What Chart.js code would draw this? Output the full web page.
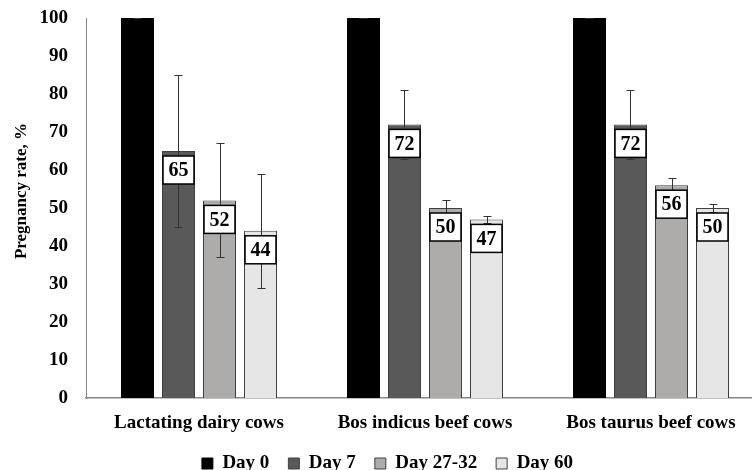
<!DOCTYPE html>
<html>
<head>
<meta charset="utf-8">
<script src="https://cdn.jsdelivr.net/npm/chart.js@4"></script>
<style>
    html, body { margin: 0; padding: 0; overflow: hidden; background: #fff; }
    #wrap { width: 764px; height: 470px; position: relative; }
</style>
</head>
<body>
<div id="wrap"><canvas id="pregChart"></canvas></div>
<script>
const categories = ['Lactating dairy cows', 'Bos indicus beef cows', 'Bos taurus beef cows'];
const seriesNames = ['Day 0', 'Day 7', 'Day 27-32', 'Day 60'];

const day0 = [100, 100, 100];
const day7 = [65, 72, 72];
const day2732 = [52, 50, 56];
const day60 = [44, 47, 50];

const day0Err = [0, 0, 0];
const day7Err = [20, 9, 9];
const day2732Err = [15, 2, 2];
const day60Err = [15, 1, 1];

const yTicks = [0, 10, 20, 30, 40, 50, 60, 70, 80, 90, 100];

const serif = "'Liberation Serif', 'Times New Roman', serif";
Chart.defaults.font.family = serif;
Chart.defaults.font.weight = 'bold';
Chart.defaults.color = '#000';

// error bars + white value boxes on top of the bars
const errorBoxes = {
    id: 'errorBoxes',
    afterDatasetsDraw(chart) {
        const ctx = chart.ctx;
        const y = chart.scales.y;
        ctx.save();
        chart.data.datasets.forEach((ds, di) => {
            const meta = chart.getDatasetMeta(di);
            meta.data.forEach((bar, i) => {
                const v = ds.data[i];
                const e = ds.errors[i];
                const top = Math.round(y.getPixelForValue(v + e)) + 0.5;
                const bot = Math.round(y.getPixelForValue(v - e)) + 0.5;
                const x = Math.round(bar.x) + 0.5;
                ctx.strokeStyle = '#333';
                ctx.lineWidth = 1;
                ctx.beginPath();
                ctx.moveTo(x, top);
                ctx.lineTo(x, bot);
                ctx.moveTo(x - 4, top);
                ctx.lineTo(x + 4, top);
                ctx.moveTo(x - 4, bot);
                ctx.lineTo(x + 4, bot);
                ctx.stroke();
            });
        });
        chart.data.datasets.forEach((ds, di) => {
            if (!ds.showValue) return;
            const meta = chart.getDatasetMeta(di);
            meta.data.forEach((bar, i) => {
                const w = bar.width - 2;
                const bx = bar.x - w / 2;
                const by = bar.y + 5;
                const bh = 28;
                ctx.fillStyle = '#fff';
                ctx.fillRect(bx, by, w, bh);
                ctx.strokeStyle = '#000';
                ctx.lineWidth = 1.5;
                ctx.strokeRect(bx, by, w, bh);
                ctx.fillStyle = '#000';
                ctx.font = 'bold 20px ' + serif;
                ctx.textAlign = 'center';
                ctx.textBaseline = 'middle';
                ctx.fillText(String(ds.data[i]), bar.x, by + bh / 2 + 1);
            });
        });
        ctx.restore();
    }
};

const config = {
    type: 'bar',
    data: {
        labels: categories,
        datasets: [
            { label: seriesNames[0], data: day0, errors: day0Err, showValue: false,
              backgroundColor: '#000000', borderColor: '#000000', borderWidth: 1 },
            { label: seriesNames[1], data: day7, errors: day7Err, showValue: true,
              backgroundColor: '#595959', borderColor: '#404040', borderWidth: 1 },
            { label: seriesNames[2], data: day2732, errors: day2732Err, showValue: true,
              backgroundColor: '#AEABAB', borderColor: '#404040', borderWidth: 1 },
            { label: seriesNames[3], data: day60, errors: day60Err, showValue: true,
              backgroundColor: '#E7E6E6', borderColor: '#404040', borderWidth: 1 },
        ],
    },
    options: {
        responsive: true,
        maintainAspectRatio: false,
        animation: false,
        categoryPercentage: 0.7257,
        barPercentage: 0.805,
        layout: {
            padding: { top: 18, left: 11, right: 0, bottom: -13 },
        },
        plugins: {
            tooltip: { enabled: false },
            legend: {
                position: 'bottom',
                labels: {
                    boxWidth: 11,
                    boxHeight: 11,
                    padding: 19,
                    font: { size: 19, weight: 'bold' },
                },
            },
        },
        scales: {
            x: {
                grid: { display: false },
                border: { color: '#868686', width: 1.5 },
                ticks: { padding: 6, font: { size: 19, weight: 'bold' }, maxRotation: 0 },
                afterFit: (s) => { s.height = 37; },
            },
            y: {
                min: 0,
                max: 100,
                afterBuildTicks: (s) => { s.ticks = yTicks.map((v) => ({ value: v })); },
                grid: { display: false, drawTicks: false },
                border: { color: '#868686', width: 1 },
                ticks: { padding: 18, font: { size: 19, weight: 'bold' } },
                title: {
                    display: true,
                    text: '        Pregnancy rate, %',
                    font: { size: 17, weight: 'bold' },
                    padding: { top: 0, bottom: 0 },
                },
                afterFit: (s) => {
                    s.width = 75;
                    s.paddingTop = 0;
                    s.paddingBottom = 0;
                },
            },
        },
    },
    plugins: [errorBoxes],
};

document.addEventListener('DOMContentLoaded', () => {
    new Chart(document.getElementById('pregChart'), config);
});
</script>
</body>
</html>
